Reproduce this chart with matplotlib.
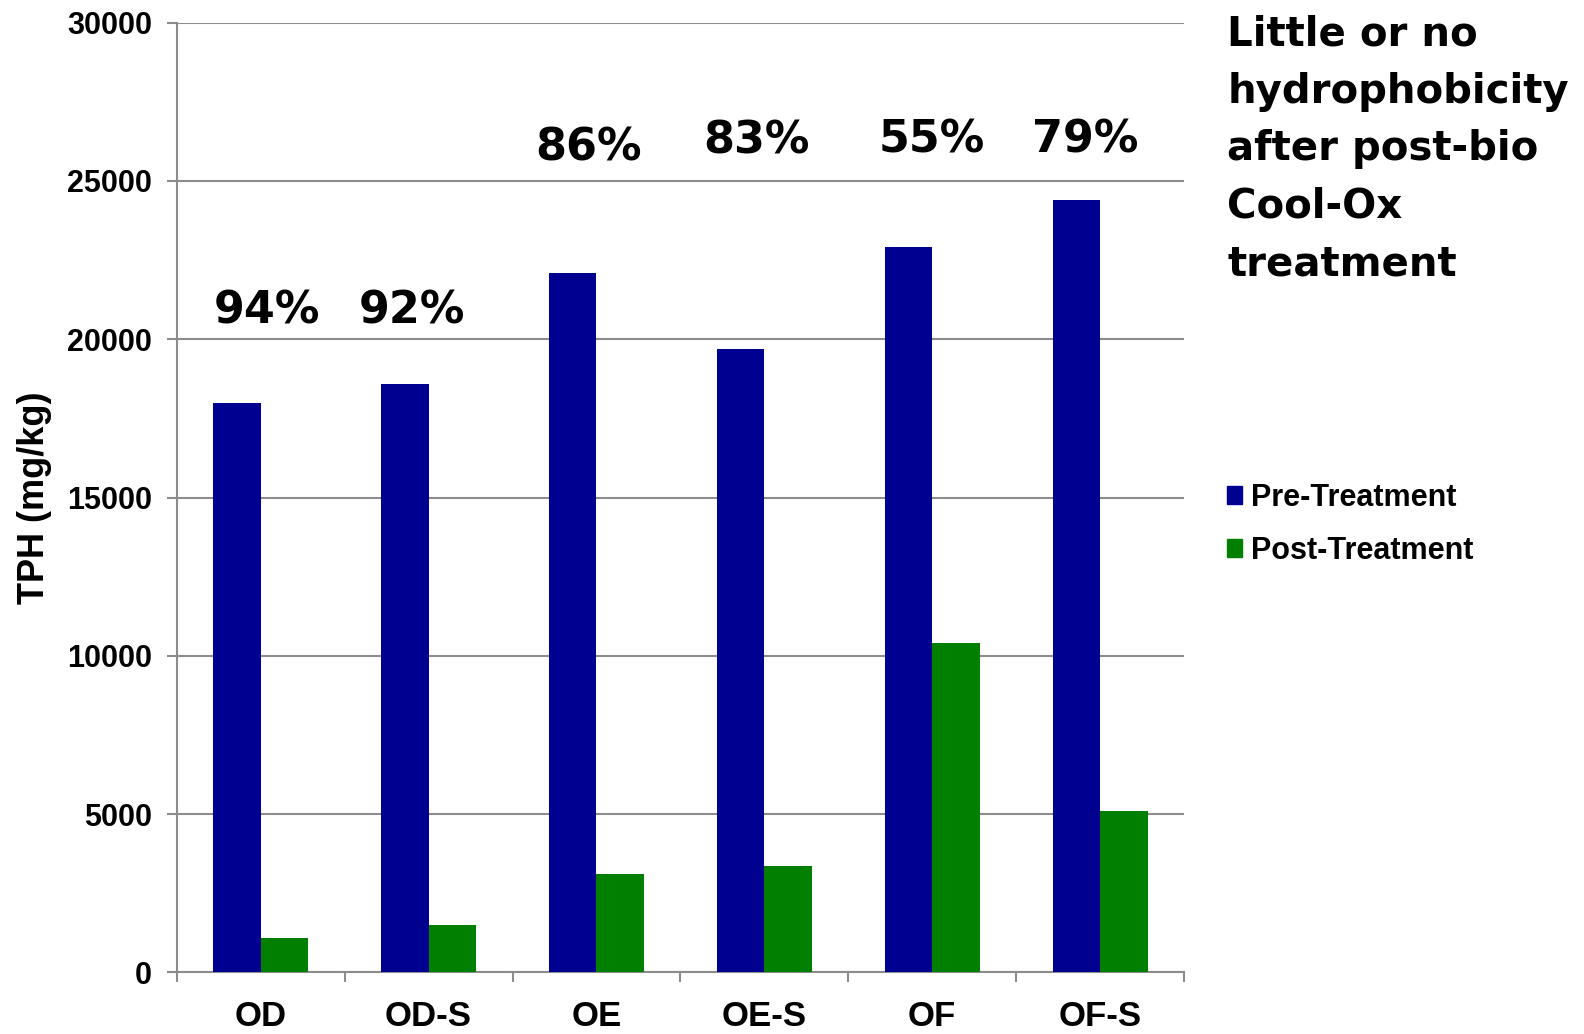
import matplotlib
matplotlib.use("Agg")
import matplotlib.pyplot as plt
from matplotlib.patches import Rectangle
import numpy as np

# TPH before and after treatment, mg/kg
categories = ["OD", "OD-S", "OE", "OE-S", "OF", "OF-S"]
pre_treatment = [18000, 18600, 22100, 19700, 22900, 24400]
post_treatment = [1100, 1500, 3100, 3350, 10400, 5100]
reduction_labels = ["94%", "92%", "86%", "83%", "55%", "79%"]
y_ticks = [0, 5000, 10000, 15000, 20000, 25000, 30000]

# where each reduction label sits (category offset, data height)
label_dx = [0.04, -0.10, -0.05, -0.05, 0.0, -0.09]
label_y = [20900, 20900, 26050, 26250, 26300, 26300]

note = "Little or no\nhydrophobicity\nafter post-bio\nCool-Ox\ntreatment"

BLUE = "#000090"
GREEN = "#007F00"
GRID = "#8C8C8C"
TICK_FONT = "Liberation Sans"
NOTE_FONT = "DejaVu Sans"

fig = plt.figure(figsize=(15.84, 10.34), dpi=100)
ax = fig.add_axes([0.1116, 0.0595, 0.7475 - 0.1116, 0.9782 - 0.0595])

x = np.arange(len(categories))
w = 0.283
ax.bar(x - w / 2, pre_treatment, width=w, color=BLUE, zorder=3, label="Pre-Treatment")
ax.bar(x + w / 2, post_treatment, width=w, color=GREEN, zorder=3, label="Post-Treatment")

ax.set_xlim(-0.5, len(categories) - 0.5)
ax.set_ylim(0, 30000)

ax.set_yticks(y_ticks)
ax.set_yticklabels([str(v) for v in y_ticks], fontsize=22, fontweight="bold",
                   family=TICK_FONT)
ax.yaxis.grid(True, color=GRID, linewidth=1.5, zorder=0)

ax.set_xticks(x)
ax.set_xticklabels(categories, fontsize=25, fontweight="bold", family=TICK_FONT)
ax.set_xticks(np.arange(-0.5, len(categories)), minor=True)
ax.tick_params(axis="x", which="major", length=0, pad=20)
ax.tick_params(axis="x", which="minor", length=7, width=1.5, color=GRID)
ax.tick_params(axis="y", length=7, width=1.5, color=GRID, pad=11)

for side in ("top", "right"):
    ax.spines[side].set_visible(False)
for side in ("left", "bottom"):
    ax.spines[side].set_color(GRID)
    ax.spines[side].set_linewidth(1.5)

ax.set_ylabel("TPH (mg/kg)", fontsize=26, fontweight="bold", family=TICK_FONT)
ax.yaxis.set_label_coords(-0.124, 0.5)

for i, (txt, dx, yy) in enumerate(zip(reduction_labels, label_dx, label_y)):
    ax.text(x[i] + dx, yy, txt, ha="center", va="center", fontsize=32,
            fontweight="bold", family=NOTE_FONT, color="black", zorder=4)

fig.text(0.7748, 1 - 14 / 1034, note, ha="left", va="top", fontsize=29,
         fontweight="bold", family=NOTE_FONT, linespacing=1.565)

handles = [Rectangle((0, 0), 1, 1, color=BLUE), Rectangle((0, 0), 1, 1, color=GREEN)]
fig.legend(handles, ["Pre-Treatment", "Post-Treatment"], loc="center left",
           bbox_to_anchor=(0.7746, 0.493), frameon=False, borderpad=0,
           borderaxespad=0, handlelength=0.5, handleheight=0.5, handletextpad=0.3,
           labelspacing=0.75,
           prop={"family": TICK_FONT, "weight": "bold", "size": 22})

fig.savefig("out.png", dpi=100)
